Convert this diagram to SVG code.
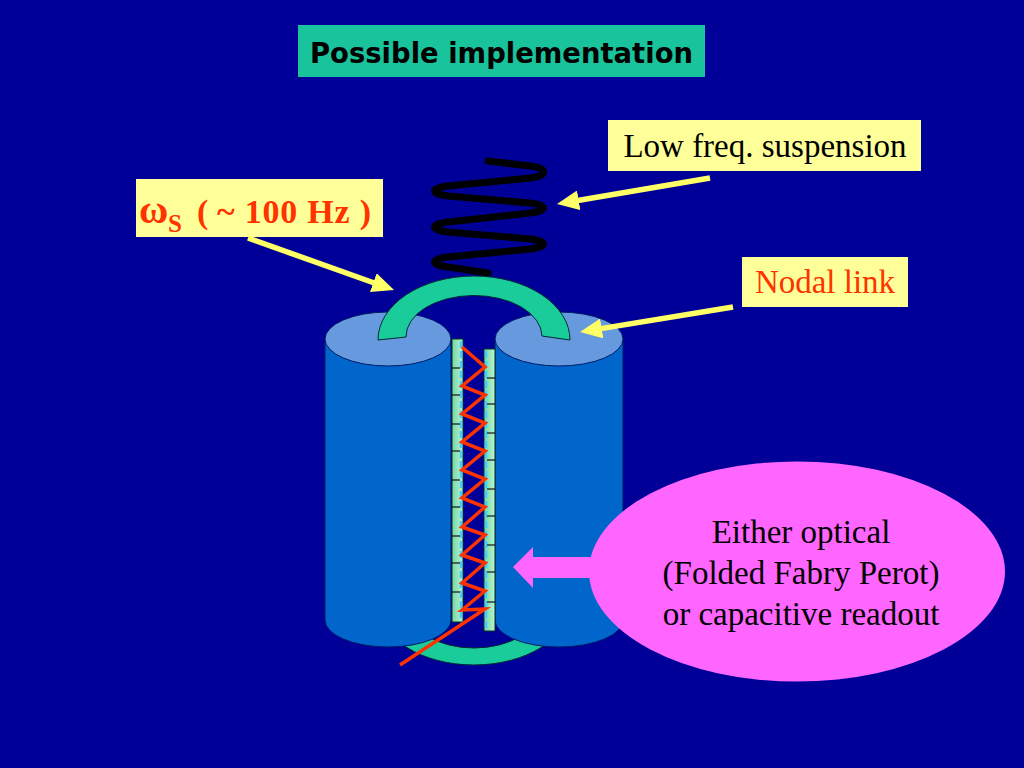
<svg xmlns="http://www.w3.org/2000/svg" width="1024" height="768" viewBox="0 0 1024 768">
<defs>
<style>
.lbl{font-family:"Liberation Serif","Times New Roman",serif;font-size:33px}
.ybox{fill:#FFFF99}
.yarrow{stroke:#FFFF66;stroke-width:5.5;fill:none;marker-end:url(#yhead)}
.body{fill:#0066CC;stroke:#001a66;stroke-width:1}
.top{fill:#6699DD;stroke:#001a66;stroke-width:1}
.link{fill:#19CC99;stroke:#002a33;stroke-width:1}
.strip{fill:url(#stripg);stroke:#003322;stroke-width:1}
.tick{stroke:#111;stroke-width:1.2}
.wave{stroke:#44CCFF;stroke-width:2.5;stroke-dasharray:7 3;fill:none}
</style>
<marker id="yhead" markerUnits="userSpaceOnUse" markerWidth="22" markerHeight="20" viewBox="0 0 22 20" refX="7" refY="10" orient="auto">
<path d="M0,0 L22,10 L0,20 Z" fill="#FFFF66"/>
</marker>
<linearGradient id="stripg" x1="0" y1="0" x2="1" y2="0">
<stop offset="0" stop-color="#77D6A6"/>
<stop offset="1" stop-color="#B5F5CF"/>
</linearGradient>
</defs>
<rect width="1024" height="768" fill="#000099"/>

<g id="title">
<rect x="298" y="25" width="407" height="52" fill="#19C39B"/>
<text x="310" y="63" font-family="DejaVu Sans, sans-serif" font-weight="bold" font-size="29" textLength="383" lengthAdjust="spacingAndGlyphs" fill="#000">Possible implementation</text>
</g>

<g id="spring">
<path d="M488,161 L530,166 C548,168 548,176 530,178 L448,186 C430,188 430,194 448,196 L530,203 C548,205 548,211 530,213 L448,222 C430,224 430,230 448,232 L530,239 C548,241 548,247 530,249 L448,257 C430,259 430,265 448,267 L488,273" fill="none" stroke="#000" stroke-width="7" stroke-linecap="round" stroke-linejoin="round"/>
</g>

<g id="bottom-link">
<path class="link" d="M379,605 A95,60 0 0 0 569,605 L542,605 A68,43 0 0 1 406,605 Z"/>
</g>

<g id="left-mass">
<path class="body" d="M325,339 L325,620 A63,27 0 0 0 451,620 L451,339 Z"/>
<ellipse class="top" cx="388" cy="339" rx="63" ry="27"/>
</g>

<g id="right-mass">
<path class="body" d="M495,339 L495,620 A64,27 0 0 0 623,620 L623,339 Z"/>
<ellipse class="top" cx="559" cy="339" rx="64" ry="27"/>
</g>

<g id="left-strip">
<rect class="strip" x="452" y="339" width="11" height="283"/>
<path class="wave" d="M461,341 L461,620"/>
<g class="tick">
<line x1="452" y1="368" x2="460" y2="368"/><line x1="452" y1="395" x2="460" y2="395"/><line x1="452" y1="424" x2="460" y2="424"/><line x1="452" y1="451" x2="460" y2="451"/><line x1="452" y1="480" x2="460" y2="480"/><line x1="452" y1="507" x2="460" y2="507"/><line x1="452" y1="536" x2="460" y2="536"/><line x1="452" y1="563" x2="460" y2="563"/><line x1="452" y1="592" x2="460" y2="592"/>
</g>
</g>

<g id="right-strip">
<rect class="strip" x="484" y="349" width="11" height="282"/>
<path class="wave" d="M486,351 L486,629"/>
<g class="tick">
<line x1="487" y1="378" x2="495" y2="378"/><line x1="487" y1="404" x2="495" y2="404"/><line x1="487" y1="433" x2="495" y2="433"/><line x1="487" y1="460" x2="495" y2="460"/><line x1="487" y1="489" x2="495" y2="489"/><line x1="487" y1="516" x2="495" y2="516"/><line x1="487" y1="545" x2="495" y2="545"/><line x1="487" y1="572" x2="495" y2="572"/><line x1="487" y1="602" x2="495" y2="602"/>
</g>
</g>

<g id="optical-path">
<polyline points="462,347 485,367 462,386 485,395 462,414 485,423 462,442 485,451 462,470 485,479 462,498 485,507 462,527 485,535 462,555 485,563 462,583 485,591 462,610 485,609 400,665" fill="none" stroke="#FF3300" stroke-width="3.5" stroke-linejoin="miter"/>
</g>

<g id="nodal-link-arc">
<path class="link" d="M378,340 A96,64 0 0 1 570,340 L542,336 A68,41 0 0 0 406,337 Z"/>
</g>

<g id="readout">
<polygon points="513,567 533,547 533,557 620,557 620,578 533,578 533,588" fill="#FF66FF"/>
<ellipse cx="797" cy="571.5" rx="208" ry="110" fill="#FF66FF"/>
<text class="lbl" text-anchor="middle" fill="#000"><tspan x="801" y="543">Either optical</tspan><tspan x="801" y="584">(Folded Fabry Perot)</tspan><tspan x="801" y="625">or capacitive readout</tspan></text>
</g>

<g id="label-suspension">
<rect class="ybox" x="608" y="120" width="313" height="51"/>
<text class="lbl" x="765" y="157" text-anchor="middle" fill="#000">Low freq. suspension</text>
</g>

<g id="label-omega">
<rect class="ybox" x="136" y="179" width="247" height="58"/>
<text font-family="Liberation Serif, serif" font-weight="bold" font-size="34" fill="#FF3300"><tspan x="139" y="223" font-size="40">ω</tspan><tspan x="168" y="232" font-size="25">S</tspan><tspan x="197" y="223">(</tspan><tspan x="217" y="223" textLength="154">~ 100 Hz )</tspan></text>
</g>

<g id="label-nodal">
<rect class="ybox" x="742" y="257" width="166" height="50"/>
<text class="lbl" x="825" y="293" text-anchor="middle" fill="#FF3300">Nodal link</text>
</g>

<g id="connectors">
<line class="yarrow" x1="710" y1="178" x2="571.8" y2="201.5"/>
<line class="yarrow" x1="248" y1="238" x2="379.9" y2="285"/>
<line class="yarrow" x1="733" y1="307" x2="594.8" y2="329.6"/>
</g>
</svg>
